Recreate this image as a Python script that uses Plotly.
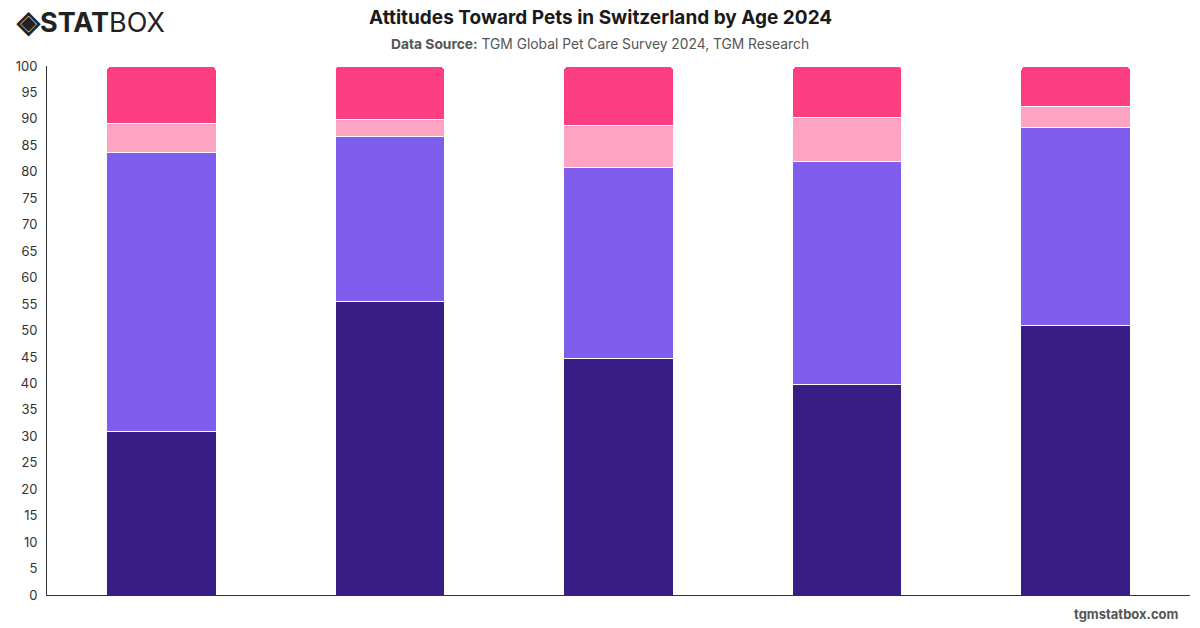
import plotly.graph_objects as go

categories = ["18-24", "25-34", "35-44", "45-54", "55+"]
series_names = ["Segment 1", "Segment 2", "Segment 3", "Segment 4"]
seg1 = [31.0, 55.4, 44.8, 39.7, 50.9]
seg2 = [52.6, 31.2, 36.1, 42.2, 37.4]
seg3 = [5.6, 3.2, 7.9, 8.3, 4.1]
seg4 = [10.8, 10.2, 11.2, 9.8, 7.6]
colors = ["#381d84", "#7f5eee", "#ffa3c3", "#fe3e82"]
y_ticks = list(range(0, 101, 5))

fig = go.Figure()
for name, vals, col in zip(series_names, [seg1, seg2, seg3, seg4], colors):
    fig.add_trace(go.Bar(
        x=categories, y=vals, name=name,
        marker=dict(color=col, line=dict(color="white", width=1)),
    ))

fig.update_layout(
    barmode="stack",
    barcornerradius=5,
    bargap=0.52,
    width=1200, height=628,
    margin=dict(l=47, r=10, t=66, b=33),
    paper_bgcolor="white", plot_bgcolor="white",
    showlegend=False,
    font=dict(family="Inter, sans-serif", color="#333"),
    xaxis=dict(showticklabels=False, showline=True, linecolor="#333", linewidth=1,
               ticks="", showgrid=False),
    yaxis=dict(range=[0, 100], tickvals=y_ticks, showline=True, linecolor="#333",
               linewidth=1, showgrid=False, ticks="", tickfont=dict(size=13, color="#333"),
               ticklabelstandoff=6),
    annotations=[
        dict(text="<b>Attitudes Toward Pets in Switzerland by Age 2024</b>",
             x=0.5, xref="paper", y=17, yref="paper", showarrow=False,
             font=dict(size=19, color="#1a1a1a", family="Inter, sans-serif"),
             xanchor="center", yanchor="middle"),
        dict(text="<b>Data Source:</b> TGM Global Pet Care Survey 2024, TGM Research",
             x=0.5, xref="paper", y=44, yref="paper", showarrow=False,
             font=dict(size=13.8, color="#555", family="Inter, sans-serif"),
             xanchor="center", yanchor="middle"),
        dict(text="<b><span style='font-size:30px'>◈</span>STAT</b>BOX",
             x=14, y=21, showarrow=False, xanchor="left", yanchor="middle",
             font=dict(size=27, color="#222", family="Inter, sans-serif")),
        dict(text="<b>tgmstatbox.com</b>",
             x=1181, y=614, showarrow=False, xanchor="right", yanchor="middle",
             font=dict(size=13, color="#555", family="Inter, sans-serif")),
    ],
)

# convert pixel positions of annotations to paper coordinates
pw = 1200 - 47 - 10
ph = 628 - 66 - 33
for a in fig.layout.annotations:
    px_x = a.x if a.x > 1 else None
    if px_x is not None:
        a.x = (px_x - 47) / pw
    else:
        a.x = (600 - 47) / pw
    a.y = (628 - 33 - a.y) / ph
    a.xref = "paper"
    a.yref = "paper"

fig.write_html("out.html")
